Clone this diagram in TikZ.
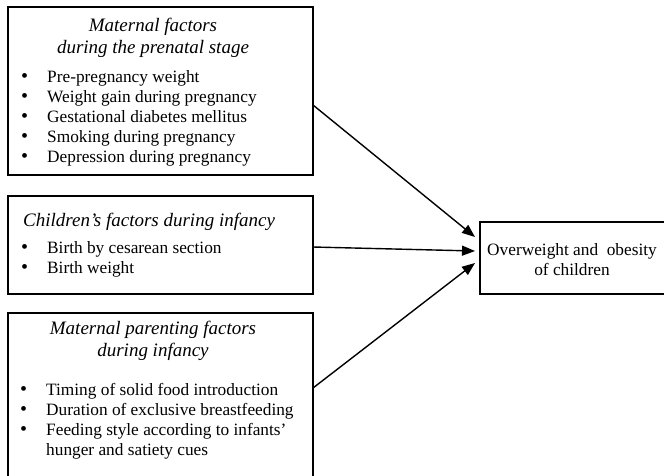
\documentclass[tikz,border=0pt]{standalone}
\usepackage{fontspec}
\setmainfont{Liberation Serif}
\usetikzlibrary{arrows.meta}

\begin{document}
\begin{tikzpicture}[x=1pt,y=-1pt,font=\fontsize{17.3}{20}\selectfont]
					\tikzstyle{factor} = [rectangle,draw=black,line width=1.4pt,inner sep=0pt,outer sep=0pt]
					\tikzstyle{heading} = [inner sep=0pt,align=center,font=\fontsize{19}{22.5}\selectfont\itshape]
					\tikzstyle{items} = [inner sep=0pt,anchor=north west]
					\tikzstyle{link} = [-{Triangle[length=13pt,width=10pt]},line width=1.4pt]
					\newcommand{\bulletlist}[1]{\begin{tabular}{@{}l@{\hspace{19pt}}l@{}}#1\end{tabular}}
					\newcommand{\bul}{{\fontsize{20}{20}\selectfont\textbullet}}
					\useasboundingbox (0,0) rectangle (664,475);
					\clip (0,0) rectangle (664,475);
					% factor boxes
					\node[factor,minimum width=305pt,minimum height=168pt] (prenatal) at (160.5,91) {};
					\node[factor,minimum width=305pt,minimum height=98pt] (infancy) at (160.5,245) {};
					\node[factor,minimum width=305pt,minimum height=172pt] (parenting) at (160.5,399) {};
					\node[factor,minimum width=190pt,minimum height=72pt] (outcome) at (575,258) {};
					% texts
					\node[heading] (prenatalhead) at (153,38) {Maternal factors\\during the prenatal stage};
					\node[items] (prenatallist) at (21,68) {\bulletlist{%
						\bul & Pre-pregnancy weight\\
						\bul & Weight gain during pregnancy\\
						\bul & Gestational diabetes mellitus\\
						\bul & Smoking during pregnancy\\
						\bul & Depression during pregnancy}};
					\node[heading,anchor=west] (infancyhead) at (23,222) {Children’s factors during infancy};
					\node[items] (infancylist) at (21,239) {\bulletlist{%
						\bul & Birth by cesarean section\\
						\bul & Birth weight}};
					\node[heading] (parentinghead) at (153,341) {Maternal parenting factors\\during infancy};
					\node[items] (parentinglist) at (20,381) {\bulletlist{%
						\bul & Timing of solid food introduction\\
						\bul & Duration of exclusive breastfeeding\\
						\bul & Feeding style according to infants’\\
						& hunger and satiety cues}};
					\node[inner sep=0pt,align=center] (outcometext) at (572,260) {Overweight and\ \ obesity\\of children};
					% arrows
					\draw[link] ([yshift=-14pt]prenatal.east) -- ([xshift=-5pt,yshift=21pt]outcome.west);
					\draw[link] ([yshift=-2pt]infancy.east) -- ([xshift=-5pt,yshift=7pt]outcome.west);
					\draw[link] ([yshift=11pt]parenting.east) -- ([xshift=-5pt,yshift=-5pt]outcome.west);
\end{tikzpicture}
\end{document}
